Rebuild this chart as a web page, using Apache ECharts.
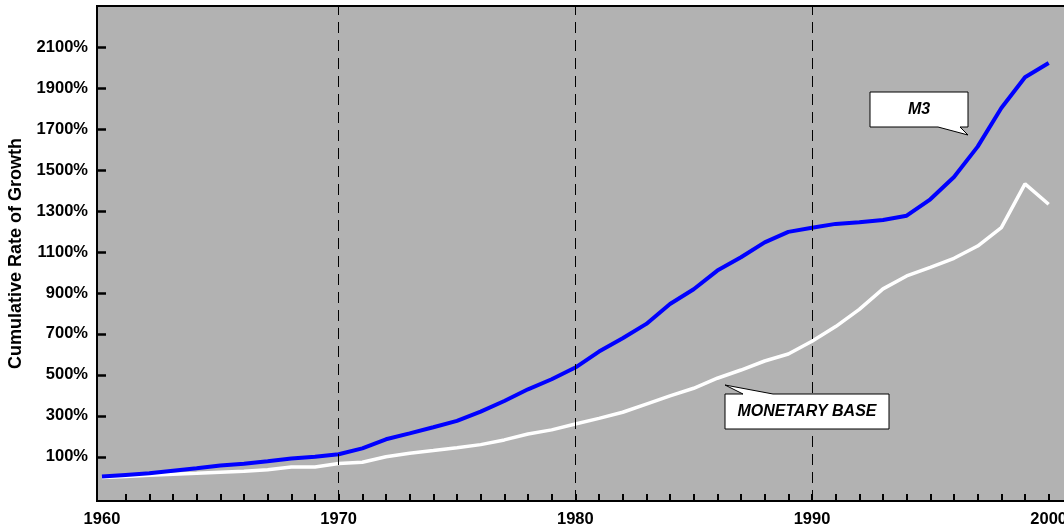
<!DOCTYPE html>
<html>
<head>
<meta charset="utf-8">
<script src="https://cdn.jsdelivr.net/npm/echarts@6/dist/echarts.min.js"></script>
<style>
html,body{margin:0;padding:0;background:#fff;}
#chart{width:1064px;height:526px;}
</style>
</head>
<body>
<div id="chart"></div>
<script>
const years = [1960,1961,1962,1963,1964,1965,1966,1967,1968,1969,1970,1971,1972,1973,1974,1975,1976,1977,1978,1979,1980,1981,1982,1983,1984,1985,1986,1987,1988,1989,1990,1991,1992,1993,1994,1995,1996,1997,1998,1999,2000];
const m3 = [4,12,20,33,45,58,67,79,92,101,113,142,186,215,245,276,321,373,430,479,536,614,679,749,846,918,1009,1074,1147,1198,1218,1237,1245,1256,1277,1357,1466,1614,1802,1952,2022];
const monetaryBase = [0,4,11,16,20,25,30,38,51,51,68,74,101,118,131,145,160,183,212,232,261,288,318,358,398,435,484,524,568,602,664,736,820,920,983,1025,1069,1129,1219,1432,1333];
const xLabelYears = [1960,1970,1980,1990,2000];
const xTickYears = years.slice(1);
const yTicks = [100,300,500,700,900,1100,1300,1500,1700,1900,2100];
const decadeLines = [1970,1980,1990];

const FONT = "'Liberation Sans', Arial, sans-serif";
const chart = echarts.init(document.getElementById('chart'));

chart.setOption({
  animation: false,
  backgroundColor: '#ffffff',
  grid: {
    left: 97, width: 977, top: 6, bottom: 25,
    show: true, backgroundColor: '#b2b2b2', borderColor: '#000', borderWidth: 2,
    containLabel: false, outerBoundsMode: 'none'
  },
  xAxis: {
    type: 'value', min: 1959.79, max: 2001.07,
    axisLine: { show: true, onZero: false, lineStyle: { color: '#000', width: 2 } },
    axisTick: { show: true, inside: true, length: 7, customValues: xTickYears, lineStyle: { color: '#000', width: 2 } },
    axisLabel: { customValues: xLabelYears, margin: 10, color: '#000', fontFamily: FONT, fontWeight: 'bold', fontSize: 16.5, hideOverlap: false, formatter: v => String(v) },
    splitLine: { show: false }
  },
  yAxis: {
    type: 'value', min: -115, max: 2300,
    name: 'Cumulative Rate of Growth', nameLocation: 'middle', nameGap: 72,
    nameTextStyle: { color: '#000', fontFamily: FONT, fontWeight: 'bold', fontSize: 18 },
    axisLine: { show: true, onZero: false, lineStyle: { color: '#000', width: 2 } },
    axisTick: { show: true, inside: true, length: 9, customValues: yTicks, lineStyle: { color: '#000', width: 2.5 } },
    axisLabel: { customValues: yTicks, margin: 9, color: '#000', fontFamily: FONT, fontWeight: 'bold', fontSize: 16.5, formatter: v => v + '%' },
    splitLine: { show: false }
  },
  series: [
    {
      name: 'MONETARY BASE', type: 'line', showSymbol: false, symbol: 'none',
      data: years.map((y, i) => [y, monetaryBase[i]]),
      lineStyle: { color: '#ffffff', width: 3.5 },
      markLine: {
        silent: true, symbol: 'none', label: { show: false },
        lineStyle: { color: '#000', width: 1, type: [11, 7] },
        data: decadeLines.map(d => ({ xAxis: d }))
      },
      z: 3
    },
    {
      name: 'M3', type: 'line', showSymbol: false, symbol: 'none',
      data: years.map((y, i) => [y, m3[i]]),
      lineStyle: { color: '#0000ff', width: 4 },
      z: 4
    }
  ],
  graphic: [
    {
      type: 'polygon', z: 100,
      shape: { points: [[870,92],[968,92],[968,127],[960,127],[968,135],[938,127],[870,127]] },
      style: { fill: '#fff', stroke: '#000', lineWidth: 1 }
    },
    {
      type: 'text', z: 101, x: 919, y: 110,
      style: { text: 'M3', fill: '#000', font: "italic bold 16px 'Liberation Sans', Arial, sans-serif", align: 'center', verticalAlign: 'middle' }
    },
    {
      type: 'polygon', z: 100,
      shape: { points: [[725,394],[743,394],[725,385],[773,394],[889,394],[889,429],[725,429]] },
      style: { fill: '#fff', stroke: '#000', lineWidth: 1 }
    },
    {
      type: 'text', z: 101, x: 807, y: 412,
      style: { text: 'MONETARY BASE', fill: '#000', font: "italic bold 16px 'Liberation Sans', Arial, sans-serif", align: 'center', verticalAlign: 'middle' }
    }
  ]
});
</script>
</body>
</html>
